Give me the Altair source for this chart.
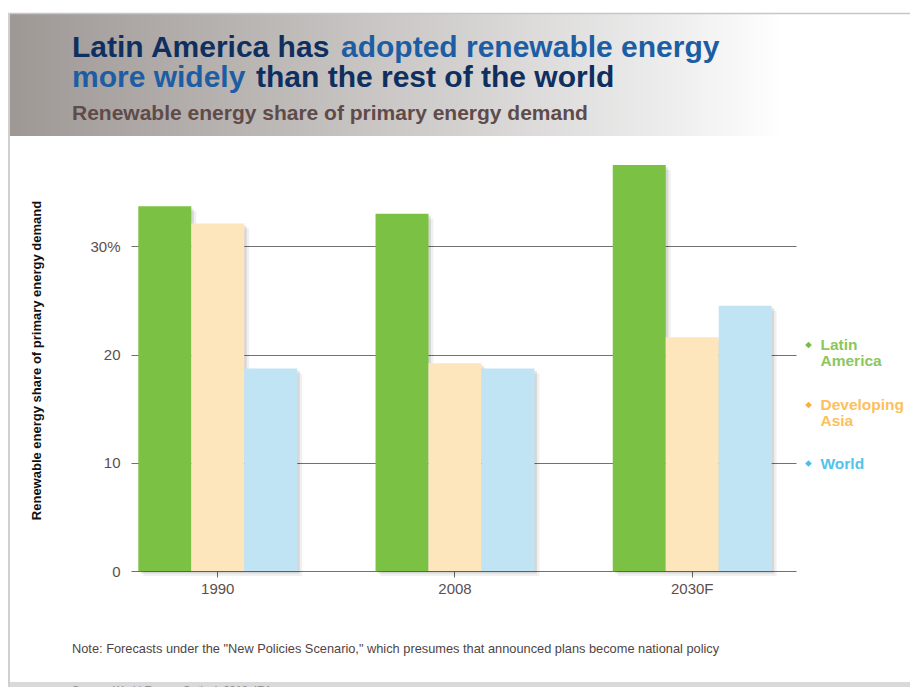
import altair as alt
import pandas as pd

# ---------------- data ----------------
years = ["1990", "2008", "2030F"]
series = ["Latin America", "Developing Asia", "World"]
latin_america = [33.7, 33.0, 37.5]
developing_asia = [32.1, 19.2, 21.6]
world = [18.7, 18.7, 24.5]
y_ticks = [0, 10, 20, 30]

bar_colors = ["#7bc143", "#fde5bc", "#c1e4f4"]
legend_lines = ["Latin\nAmerica", "Developing\nAsia", "World"]
legend_text_colors = ["#8cc65e", "#fdc05a", "#52c3eb"]
legend_marker_colors = ["#7bbd44", "#fbb03b", "#4dbfe8"]

title_line1 = ["Latin America has", "adopted renewable energy"]
title_line2 = ["more widely", "than the rest of the world"]
subtitle = "Renewable energy share of primary energy demand"
y_title = "Renewable energy share of primary energy demand"
note = 'Note: Forecasts under the "New Policies Scenario," which presumes that announced plans become national policy'
source = "Source: World Energy Outlook 2010, IEA"

rows = []
for s, vals in zip(series, [latin_america, developing_asia, world]):
    for yr, v in zip(years, vals):
        rows.append({"year": yr, "series": s, "value": v})
df = pd.DataFrame(rows)

FONT = "Liberation Sans"
NAVY = "#0e2f60"
BLUE = "#1c5da4"
W, H = 665, 433
PAD = {"left": 123, "top": 130, "right": 114, "bottom": 116}
one = alt.Data(values=[{}])
P_IN, P_OUT, ALIGN = 0.33, 0.0666, 0.231

# ---------------- decorations ----------------
header = alt.Chart(one).mark_rect(
    color={
        "gradient": "linear", "x1": 0, "x2": 1, "y1": 0, "y2": 0,
        "stops": [
            {"offset": 0.0, "color": "#9e9895"},
            {"offset": 0.3, "color": "#bdb9b7"},
            {"offset": 0.5, "color": "#d3d1d0"},
            {"offset": 0.74, "color": "#eeeeee"},
            {"offset": 0.86, "color": "#ffffff"},
            {"offset": 1.0, "color": "#ffffff"},
        ],
    }
).encode(x=alt.value(-123), x2=alt.value(779), y=alt.value(-124), y2=alt.value(-2))

top_line = alt.Chart(one).mark_rule(color="#c6c6c6", strokeWidth=1.5).encode(
    x=alt.value(-123), x2=alt.value(779), y=alt.value(-124.5))
left_line = alt.Chart(one).mark_rule(color="#d0d0d0", strokeWidth=2).encode(
    x=alt.value(-122), y=alt.value(-125), y2=alt.value(560))
bottom_band = alt.Chart(one).mark_rect(color="#d9d9d9").encode(
    x=alt.value(-121), x2=alt.value(779), y=alt.value(544), y2=alt.value(560))

def txt(text, x, y, size, color, weight="bold", baseline="alphabetic"):
    return alt.Chart(one).mark_text(
        text=text, align="left", baseline=baseline, font=FONT,
        fontSize=size, fontWeight=weight, color=color,
    ).encode(x=alt.value(x), y=alt.value(y))

t1a = txt(title_line1[0], -59, -81.5, 30, NAVY)
t1b = txt(title_line1[1], 210, -81.5, 30, BLUE)
t2a = txt(title_line2[0], -59, -51.5, 30, BLUE)
t2b = txt(title_line2[1], 125, -51.5, 30, NAVY)
sub = txt(subtitle, -59, -18.5, 21, "#5e4b4a")
note_t = txt(note, -59, 515, 12.8, "#4f4444", weight="normal")
source_t = txt(source, -59, 556, 11, "#8a8a8a", weight="normal")

# ---------------- shared y encoding ----------------
y_enc = alt.Y(
    "value:Q",
    scale=alt.Scale(domain=[0, 40], nice=False),
    axis=alt.Axis(
        values=y_ticks,
        labelExpr="datum.value == 30 ? '30%' : datum.label",
        grid=True, gridColor="#707070", gridWidth=1.2,
        domain=False, ticks=False, tickSize=0, labelPadding=11,
        labelFont=FONT, labelFontSize=15, labelColor="#5c4e4e",
        title=y_title, titleX=-87.5, titleY=222, titleAngle=270,
        titleAlign="center", titleBaseline="bottom",
        titleFont=FONT, titleFontSize=13, titleFontWeight="bold", titleColor="#111111",
    ),
)
xoff_enc = alt.XOffset("series:N", sort=series,
                       scale=alt.Scale(paddingInner=0, paddingOuter=0))

# ---------------- bar shadows ----------------
def shadow(shift, opacity):
    return alt.Chart(df).mark_bar(color="#000000", opacity=opacity,
                                  yOffset=shift, y2Offset=shift).encode(
        x=alt.X("year:N", sort=years, axis=None,
                scale=alt.Scale(paddingInner=P_IN, paddingOuter=P_OUT,
                                align=ALIGN + shift / 31.6)),
        xOffset=xoff_enc,
        y=y_enc,
    )

shadow1 = shadow(2.5, 0.10)
shadow2 = shadow(5.0, 0.06)

# ---------------- bars ----------------
bars = alt.Chart(df).mark_bar().encode(
    x=alt.X(
        "year:N", sort=years,
        scale=alt.Scale(paddingInner=P_IN, paddingOuter=P_OUT, align=ALIGN),
        axis=alt.Axis(
            title=None, domain=False, ticks=True, tickSize=6, tickColor="#666666",
            labelAngle=0, labelFont=FONT, labelFontSize=15, labelColor="#5c4e4e",
            labelPadding=4, grid=False,
        ),
    ),
    xOffset=xoff_enc,
    y=y_enc,
    color=alt.Color("series:N", scale=alt.Scale(domain=series, range=bar_colors), legend=None),
)

# ---------------- legend ----------------
legend_layers = []
leg_y = [207, 267, 325.5]
for i in range(3):
    legend_layers.append(
        alt.Chart(one).mark_point(shape="diamond", filled=True, size=45,
                                  color=legend_marker_colors[i], opacity=1)
        .encode(x=alt.value(677.5), y=alt.value(leg_y[i]))
    )
    legend_layers.append(
        alt.Chart(one).mark_text(
            text=legend_lines[i], lineBreak="\n", lineHeight=16, align="left",
            baseline="alphabetic", font=FONT, fontSize=15.5, fontWeight="bold",
            color=legend_text_colors[i],
        ).encode(x=alt.value(689.5), y=alt.value(leg_y[i] + 5))
    )

chart = alt.layer(
    header, top_line, left_line, bottom_band,
    t1a, t1b, t2a, t2b, sub,
    shadow2, shadow1, bars, *legend_layers, note_t, source_t,
).resolve_scale(
    x="independent", xOffset="independent"
).properties(
    width=W, height=H, padding=PAD, autosize=alt.AutoSizeParams(type="none"),
).configure_view(stroke=None)

chart.save("out.html", embed_options={"renderer": "svg", "actions": False})
